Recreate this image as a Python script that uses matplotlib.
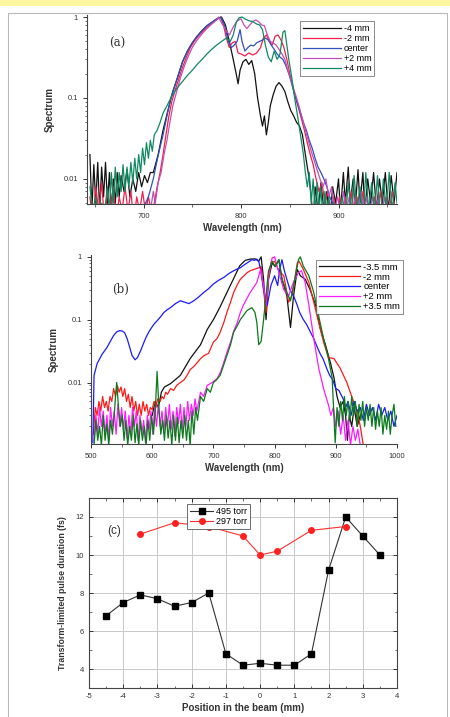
import matplotlib
matplotlib.use("Agg")
import matplotlib.pyplot as plt
from matplotlib.patches import Rectangle
from matplotlib.ticker import MultipleLocator, LogLocator, NullFormatter, FixedLocator

plt.rcParams['font.family'] = ['Liberation Sans', 'DejaVu Sans']
plt.rcParams['axes.unicode_minus'] = False

# ---------------- panel (a): spectra, 495 torr ----------------
a_labels = ['-4 mm', '-2 mm', 'center', '+2 mm', '+4 mm']
a_colors = ['#111111', '#f0204a', '#3050c0', '#c050b8', '#108a60']

a_m4_wl = [645, 647, 649, 651, 653, 655, 657, 659, 661, 663, 665, 667, 669, 671, 673, 675, 677, 680, 683, 686,
           689, 692, 695, 698, 701, 704, 707, 710, 715, 720, 725, 730, 735, 740, 745, 750, 755, 760, 765, 770,
           775, 780, 784, 788, 792, 795, 797, 799, 802, 805, 808, 811, 814, 817, 820, 822, 824, 826, 828, 830,
           833, 836, 839, 842, 845, 848, 851, 854, 857, 860, 863, 866, 868, 870, 872, 874, 876, 879, 882, 885,
           888, 891, 894, 897, 900, 902, 905, 907, 910, 912, 915, 917, 920, 922, 925, 927, 930, 933, 936, 939,
           942, 945, 948, 951, 954, 957, 960]
a_m4_val = [0.02, 0.004, 0.015, 0.005, 0.016, 0.004, 0.014, 0.006, 0.016, 0.005, 0.012, 0.004, 0.01, 0.005, 0.012,
            0.006, 0.011, 0.007, 0.013, 0.006, 0.01, 0.007, 0.012, 0.008, 0.011, 0.009, 0.012, 0.012, 0.02, 0.04,
            0.07, 0.12, 0.18, 0.28, 0.38, 0.48, 0.58, 0.68, 0.78, 0.86, 0.95, 1.0, 0.8, 0.5, 0.3, 0.2,
            0.15, 0.22, 0.28, 0.3, 0.26, 0.29, 0.2, 0.1, 0.06, 0.045, 0.06, 0.035, 0.05, 0.08,
            0.11, 0.14, 0.155, 0.14, 0.12, 0.09, 0.07, 0.06, 0.05, 0.045, 0.035, 0.02, 0.014, 0.01, 0.006,
            0.003, 0.008, 0.004, 0.009, 0.004, 0.007, 0.003, 0.008, 0.005, 0.01, 0.004, 0.012, 0.005, 0.014, 0.005,
            0.01, 0.004, 0.013, 0.005, 0.012, 0.004, 0.01, 0.005, 0.012, 0.004, 0.01, 0.005, 0.012, 0.004,
            0.011, 0.005, 0.012]

a_m2_wl = [645, 648, 651, 654, 657, 660, 663, 666, 669, 672, 675, 678, 681, 684, 687, 690, 693, 696, 699, 702,
           705, 708, 711, 714, 717, 720, 723, 726, 729, 732, 736, 740, 744, 748, 752, 756, 760, 764, 768, 772,
           776, 779, 782, 785, 788, 791, 794, 797, 800, 804, 808, 812, 816, 820, 823, 826, 829, 832, 835, 838,
           841, 844, 847, 850, 853, 856, 859, 862, 865, 868, 871, 874, 877, 880, 883, 886, 889, 892, 895, 898,
           901, 904, 907, 910, 913, 916, 919, 922, 925, 928, 931, 934, 937, 940, 943, 946, 949, 952, 955, 958]
a_m2_val = [0.006, 0.003, 0.008, 0.004, 0.009, 0.003, 0.007, 0.004, 0.008, 0.003, 0.006, 0.004, 0.008, 0.004, 0.007,
            0.003, 0.006, 0.004, 0.007, 0.004, 0.006, 0.004, 0.005, 0.008, 0.012, 0.02, 0.035, 0.06, 0.09, 0.12,
            0.17, 0.24, 0.32, 0.42, 0.5, 0.58, 0.65, 0.72, 0.8, 0.88, 0.95, 1.0, 0.8, 0.55, 0.42, 0.48,
            0.5, 0.36, 0.35, 0.33, 0.36, 0.34, 0.36, 0.42, 0.55, 0.6, 0.5, 0.45, 0.58, 0.6,
            0.52, 0.42, 0.3, 0.2, 0.14, 0.1, 0.075, 0.055, 0.04, 0.028, 0.02, 0.015, 0.01, 0.007, 0.009,
            0.005, 0.007, 0.004, 0.006, 0.003, 0.006, 0.004, 0.006, 0.003, 0.007, 0.004, 0.006, 0.003, 0.007, 0.004,
            0.005, 0.003, 0.006, 0.004, 0.007, 0.003, 0.006, 0.004, 0.007, 0.004]

a_c_wl = [698, 702, 705, 710, 713, 716, 720, 724, 728, 732, 736, 740, 745, 750, 755, 760, 765, 770, 775, 779,
          783, 787, 790, 793, 796, 799, 801, 804, 807, 810, 813, 816, 819, 822, 825, 828, 831, 834, 837, 840,
          843, 846, 849, 852, 855, 858, 861, 864, 867, 870, 873, 876, 879, 882, 885, 888, 891, 894, 897, 900]
a_c_val = [0.003, 0.005, 0.006, 0.01, 0.015, 0.022, 0.035, 0.06, 0.1, 0.14, 0.2, 0.28, 0.38, 0.48, 0.58,
           0.68, 0.78, 0.86, 0.93, 1.0, 0.8, 0.5, 0.42, 0.45, 0.5, 0.7, 0.5, 0.38, 0.42, 0.45,
           0.44, 0.48, 0.5, 0.52, 0.55, 0.52, 0.45, 0.4, 0.35, 0.32, 0.3, 0.25, 0.2, 0.15, 0.11,
           0.085, 0.065, 0.05, 0.04, 0.03, 0.024, 0.018, 0.014, 0.012, 0.01, 0.008, 0.006, 0.005, 0.004, 0.003]

a_p2_wl = [700, 704, 707, 710, 712, 715, 718, 721, 724, 727, 730, 734, 738, 742, 746, 750, 754, 758, 762, 766,
           770, 774, 777, 780, 784, 788, 792, 796, 800, 803, 806, 809, 812, 815, 818, 821, 824, 827, 830, 833,
           836, 839, 842, 845, 848, 851, 854, 857, 860, 863, 866, 869, 872, 875, 878, 881, 884, 887, 890, 893,
           896, 899, 902, 905, 908, 911, 914, 917, 920, 923, 926, 929, 932, 935, 938, 941, 944, 947, 950, 953, 956]
a_p2_val = [0.003, 0.005, 0.004, 0.007, 0.005, 0.009, 0.012, 0.02, 0.03, 0.05, 0.08, 0.12, 0.18, 0.25, 0.33,
            0.42, 0.5, 0.58, 0.66, 0.74, 0.82, 0.9, 1.0, 0.85, 0.7, 0.6, 0.75, 0.9, 0.95, 0.8,
            0.72, 0.8, 0.88, 0.92, 0.88, 0.8, 0.78, 0.6, 0.5, 0.48, 0.45, 0.4, 0.35, 0.3, 0.22,
            0.17, 0.13, 0.1, 0.075, 0.055, 0.04, 0.03, 0.022, 0.017, 0.013, 0.01, 0.008, 0.01, 0.006, 0.008,
            0.004, 0.006, 0.004, 0.007, 0.004, 0.006, 0.003, 0.006, 0.004, 0.007, 0.004, 0.006, 0.003, 0.006, 0.004,
            0.006, 0.003, 0.006, 0.004, 0.005, 0.003]

a_p4_wl = [645, 648, 651, 654, 657, 660, 663, 665, 667, 669, 671, 673, 675, 677, 679, 681, 683, 685, 687, 689,
           691, 693, 695, 697, 699, 701, 703, 705, 707, 709, 711, 714, 717, 720, 724, 728, 732, 736, 740, 745,
           750, 755, 760, 765, 770, 775, 780, 785, 789, 792, 795, 798, 801, 804, 808, 812, 816, 819, 822, 825,
           828, 831, 834, 837, 840, 843, 845, 847, 849, 852, 855, 858, 861, 864, 866, 868, 870, 872, 874, 876,
           878, 880, 882, 884, 886, 888, 890, 892, 895, 898, 901,
           904, 907, 910, 913, 916, 919, 922, 925, 928, 931, 934, 937, 940, 943, 946, 949, 952, 955, 958, 960]
a_p4_val = [0.008, 0.004, 0.006, 0.003, 0.005, 0.004, 0.008, 0.004, 0.012, 0.005, 0.014, 0.006, 0.012, 0.007, 0.015,
            0.007, 0.014, 0.008, 0.016, 0.009, 0.018, 0.01, 0.02, 0.012, 0.024, 0.015, 0.028, 0.018, 0.03, 0.022,
            0.035, 0.04, 0.05, 0.065, 0.08, 0.1, 0.12, 0.14, 0.16, 0.19, 0.22, 0.26, 0.3, 0.35, 0.4,
            0.45, 0.5, 0.55, 0.5, 0.6, 0.85, 0.98, 1.0, 0.95, 0.9, 0.88, 0.82, 0.8, 0.7, 0.45,
            0.32, 0.28, 0.38, 0.3, 0.35, 0.65, 0.68, 0.45, 0.3, 0.18, 0.1, 0.06, 0.035, 0.02, 0.012,
            0.008, 0.012, 0.005, 0.01, 0.004, 0.009, 0.004, 0.008, 0.003, 0.007, 0.004, 0.006, 0.003, 0.005, 0.003,
            0.004,
            0.006, 0.003, 0.009, 0.004, 0.011, 0.004, 0.008, 0.003, 0.012, 0.004, 0.009, 0.004, 0.011, 0.003, 0.01,
            0.004, 0.012, 0.004, 0.009, 0.005]

# ---------------- panel (b): spectra, 297 torr ----------------
b_labels = ['-3.5 mm', '-2 mm', 'center', '+2 mm', '+3.5 mm']
b_colors = ['#111111', '#ff1a1a', '#1a1aff', '#ff1aff', '#0a7a1a']

b_m35_wl = [600, 605, 610, 615, 620, 630, 646, 662, 679, 690, 700, 711, 722, 733, 743, 752, 760, 768, 774, 778,
            782, 786,
            790, 796, 801, 807, 812, 820, 826, 831, 837, 842,
            850, 858, 867, 875, 883, 891, 897, 902, 907, 912,
            916, 919, 922, 926, 930, 935, 940]
b_m35_val = [0.003, 0.005, 0.004, 0.007, 0.0085, 0.0096, 0.013, 0.024, 0.04, 0.07, 0.1, 0.16, 0.27, 0.45, 0.72,
             0.88, 0.92, 0.93, 0.85, 1.0, 0.44, 0.1,
             0.44, 0.8, 0.7, 0.9, 0.44, 0.24, 0.075, 0.24, 0.63, 0.5,
             0.44, 0.3, 0.17, 0.07, 0.04, 0.021, 0.012, 0.006, 0.004, 0.005,
             0.003, 0.0012, 0.003, 0.002, 0.004, 0.002, 0.003]

b_m2_wl = [504, 507, 510, 513, 516, 519, 522, 525, 528, 531, 534, 537, 540, 543, 546, 549, 552, 555, 558, 561,
           564, 567, 570, 573, 576, 579, 582, 585, 588, 591, 594, 597, 600, 603, 606, 609, 613, 616, 619, 622,
           625, 630, 635, 640, 646, 652, 657, 662, 668, 674, 679, 685, 692, 700, 706, 711, 717, 722, 728, 733,
           739, 744, 750, 755, 760, 766, 770, 774, 778, 782, 786, 790, 794, 800, 807, 815, 823, 829, 837, 840,
           847, 856, 864, 872, 880, 888, 897, 907, 918, 926, 935, 940, 945]
b_m2_val = [0.0015, 0.004, 0.003, 0.005, 0.0035, 0.006, 0.004, 0.005, 0.0035, 0.006, 0.005, 0.008, 0.006, 0.009, 0.007,
            0.0085, 0.006, 0.008, 0.005, 0.0065,
            0.004, 0.006, 0.0035, 0.005, 0.003, 0.0045, 0.003, 0.005, 0.0035, 0.0045, 0.003, 0.004, 0.0037, 0.005, 0.004,
            0.0055, 0.005, 0.006, 0.0055, 0.007,
            0.0065, 0.008, 0.0075, 0.009, 0.01, 0.011, 0.013, 0.016, 0.018, 0.021, 0.024, 0.027, 0.029, 0.044, 0.05,
            0.063, 0.09, 0.13, 0.19, 0.27,
            0.36, 0.44, 0.5, 0.56, 0.6, 0.63, 0.65, 0.67, 0.7, 0.3, 0.13, 0.44, 0.8, 0.85, 0.6,
            0.5, 0.19, 0.25, 0.8, 0.85,
            0.63, 0.39, 0.19, 0.09, 0.044, 0.025, 0.024, 0.017, 0.01, 0.006, 0.0035, 0.002, 0.001]

b_c_wl = [503, 505, 510, 518, 526, 532, 537, 542, 547, 551, 555, 559, 563, 567, 572, 576, 581, 585, 589, 593,
          597, 603, 608, 614, 619, 625, 630, 638, 646, 653, 660, 668, 676, 684, 692, 700, 708, 717, 725, 733,
          739, 744, 750, 755, 760, 763, 767, 771, 774, 777, 782, 788, 794, 800, 805, 808, 812, 816, 820, 825,
          831, 836, 841, 847, 852, 858, 864, 870, 875, 879, 886, 890, 895, 900, 905, 912, 916, 920, 925, 930,
          935, 940, 945, 950, 955, 960, 965, 970, 975, 980, 985, 990, 995, 1000]
b_c_val = [0.0011, 0.013, 0.02, 0.028, 0.036, 0.046, 0.056, 0.064, 0.067, 0.066, 0.062, 0.05, 0.037, 0.027, 0.023,
           0.025, 0.032, 0.04, 0.05, 0.06, 0.07, 0.085, 0.096, 0.112, 0.13, 0.145, 0.156, 0.18, 0.2, 0.19,
           0.18, 0.2, 0.23, 0.27, 0.31, 0.37, 0.42, 0.47, 0.54, 0.6, 0.64, 0.67, 0.74, 0.8, 0.86,
           0.9, 0.88, 0.92, 0.85, 0.63, 0.3, 0.17, 0.35, 0.5, 0.35, 0.6, 0.9, 0.6, 0.44, 0.3,
           0.24, 0.18, 0.13, 0.1, 0.085, 0.065, 0.05, 0.036, 0.028, 0.024, 0.016, 0.013, 0.011, 0.008, 0.0075,
           0.0055, 0.004, 0.005, 0.003, 0.005, 0.0035, 0.004, 0.0025, 0.0045, 0.003, 0.004, 0.0025, 0.0045, 0.003,
           0.004, 0.0025, 0.0035, 0.002, 0.003]

b_p2_wl = [505, 508, 511, 514, 517, 520, 523, 526, 529, 532, 535, 538, 541, 544, 547, 550, 553, 556, 559, 562,
           565, 568, 571, 574, 577, 580, 583, 586, 589, 592, 595, 598, 601, 604, 607, 610, 613, 616, 619, 622,
           625, 628, 631, 634, 637, 640, 643, 646, 649, 652, 655, 658, 661, 664, 667, 670, 673, 676, 679, 684,
           690, 698, 706, 712, 717, 722, 728, 733, 739, 744, 749, 755, 760, 766, 771, 777, 782, 786, 790, 796,
           800, 807, 815, 823, 831, 839, 844, 850, 856, 864, 872, 880, 888, 892, 896, 900, 904, 908, 912, 916,
           920, 924, 928, 932, 936, 940]
b_p2_val = [0.0012, 0.003, 0.0015, 0.004, 0.002, 0.0035, 0.0015, 0.003, 0.0012, 0.004, 0.002, 0.0035, 0.0015, 0.0045, 0.002,
            0.004, 0.0018, 0.0035, 0.0013, 0.003, 0.0015, 0.004, 0.002, 0.0035, 0.0012, 0.003, 0.0015, 0.0025, 0.0011, 0.003,
            0.0018, 0.0035, 0.0015, 0.004, 0.002, 0.0045, 0.002, 0.0035, 0.0016, 0.004, 0.002, 0.0045, 0.0018, 0.0035, 0.0014,
            0.004, 0.0022, 0.0045, 0.0018, 0.004, 0.002, 0.005, 0.0025, 0.0045, 0.003, 0.0055, 0.0035, 0.005, 0.007,
            0.006, 0.009, 0.01, 0.0115, 0.015, 0.021, 0.03, 0.044, 0.065, 0.09, 0.13, 0.17, 0.22, 0.27, 0.33,
            0.39, 0.63, 0.34, 0.17, 0.5, 0.96, 1.0, 0.56, 0.3, 0.24, 0.4, 0.56, 0.6, 0.39, 0.17, 0.05,
            0.017, 0.008, 0.0044, 0.003, 0.004, 0.002, 0.0035, 0.0015, 0.003, 0.0012, 0.0025, 0.001, 0.002, 0.0012,
            0.0018, 0.001]

b_p35_wl = [505, 508, 511, 514, 517, 520, 523, 526, 529, 532, 535, 538, 540, 542, 545, 548, 551, 554, 557, 560,
            563, 566, 569, 572, 575, 578, 581, 584, 587, 590, 593, 596, 599, 602, 605, 608, 611, 614, 617, 620,
            623, 626, 629, 632, 635, 638, 641, 644, 647, 650, 653, 656, 659, 662, 665, 668, 671, 674, 679, 684,
            690, 695, 700, 705, 711, 716, 722, 728, 733, 739, 744, 750, 755, 760, 763, 768, 771, 774, 778, 782,
            786, 790, 796, 801, 807, 812, 820, 826, 831, 839, 842, 847, 856, 864, 872, 880, 888, 894, 897, 899,
            902, 905, 908, 911, 914, 917, 920, 923, 926, 929, 932, 935, 938, 941, 944, 947, 950, 953, 956, 959,
            962, 965, 968, 971, 974, 977, 980, 983, 986, 989, 992, 995, 998]
b_p35_val = [0.001, 0.0025, 0.0012, 0.002, 0.001, 0.003, 0.0012, 0.0022, 0.001, 0.0025, 0.0015, 0.003, 0.006, 0.01, 0.004,
             0.002, 0.003, 0.0012, 0.0025, 0.001, 0.002, 0.0012, 0.003, 0.0011, 0.0022, 0.001, 0.0025, 0.0012, 0.002, 0.001,
             0.0025, 0.0012, 0.003, 0.0015, 0.0035, 0.015, 0.004, 0.0015, 0.0025, 0.0012, 0.003, 0.0013, 0.0025, 0.001, 0.003,
             0.0012, 0.0028, 0.0011, 0.0025, 0.0013, 0.003, 0.0012, 0.0025, 0.001, 0.0035, 0.0015, 0.004, 0.0025, 0.006,
             0.005, 0.008, 0.007, 0.01, 0.011, 0.013, 0.018, 0.027, 0.04, 0.063, 0.08, 0.1, 0.12, 0.14, 0.15, 0.155,
             0.13, 0.09, 0.04, 0.045, 0.1, 0.24, 0.6, 0.85, 0.7, 0.9, 0.45, 0.27, 0.2, 0.35, 0.9,
             1.0, 0.71, 0.5, 0.27, 0.115, 0.05, 0.024, 0.012, 0.003, 0.0011, 0.004, 0.002, 0.005, 0.0025, 0.006,
             0.003, 0.005, 0.0025, 0.006, 0.003, 0.005, 0.002, 0.0045, 0.0025, 0.005, 0.002, 0.004, 0.0025, 0.0045,
             0.002, 0.004, 0.0018, 0.0035, 0.002, 0.004, 0.0015, 0.003, 0.0018, 0.0035, 0.0015, 0.003, 0.0045, 0.002]

# ---------------- panel (c): transform-limited duration ----------------
pos_495 = [-4.5, -4, -3.5, -3, -2.5, -2, -1.5, -1, -0.5, 0, 0.5, 1, 1.5, 2, 2.5, 3, 3.5]
dur_495 = [6.8, 7.5, 7.9, 7.7, 7.3, 7.5, 8.0, 4.8, 4.2, 4.3, 4.2, 4.2, 4.8, 9.2, 12.0, 11.0, 10.0]
pos_297 = [-3.5, -2.5, -1.5, -0.5, 0, 0.5, 1.5, 2.5]
dur_297 = [11.1, 11.7, 11.5, 11.0, 10.0, 10.2, 11.3, 11.5]

W, H = 450, 717
fig = plt.figure(figsize=(W / 100, H / 100), dpi=100)
fig.patch.set_facecolor('white')
# yellow strip and page frame of the screenshot
fig.patches.append(Rectangle((0, 1 - 6 / H), 1, 6 / H, transform=fig.transFigure,
                             facecolor='#fff7a0', edgecolor='none'))
fig.patches.append(Rectangle((8 / W, -0.01), 439 / W, 1 - 13 / H + 0.01, transform=fig.transFigure,
                             facecolor='none', edgecolor='#b8b8b8', linewidth=0.8))


def box(l, t, r, b):
    return [l / W, 1 - b / H, (r - l) / W, (b - t) / H]


lab_font = dict(fontsize=7, fontweight='bold', color='#333333')
tick_size = 5.5


def spectrum_axes(ax, xlim, ylim, xticks, minor_x, tag, tag_xy):
    ax.set_yscale('log')
    ax.set_xlim(*xlim)
    ax.set_ylim(*ylim)
    ax.xaxis.set_major_locator(FixedLocator(xticks))
    ax.xaxis.set_minor_locator(MultipleLocator(minor_x))
    ax.yaxis.set_major_locator(FixedLocator([0.01, 0.1, 1]))
    ax.yaxis.set_minor_locator(LogLocator(base=10, subs=[i / 10 for i in range(2, 10)], numticks=20))
    ax.yaxis.set_minor_formatter(NullFormatter())
    ax.set_yticklabels(['0.01', '0.1', '1'])
    ax.tick_params(axis='both', which='major', labelsize=tick_size, length=3, width=0.7, colors='#333333')
    ax.tick_params(axis='both', which='minor', length=1.8, width=0.5, colors='#333333')
    ax.spines['top'].set_visible(False)
    ax.spines['right'].set_visible(False)
    for s in ('left', 'bottom'):
        ax.spines[s].set_linewidth(0.8)
        ax.spines[s].set_color('#444444')
    ax.set_xlabel('Wavelength (nm)', labelpad=2, **lab_font)
    ax.set_ylabel('Spectrum', labelpad=6, **lab_font)
    ax.text(tag_xy[0], tag_xy[1], tag, transform=ax.transAxes, fontsize=8.5,
            family=['DejaVu Serif'], color='#333333')


# (a)
ax1 = fig.add_axes(box(87, 15, 397, 204))
for wl, v, c, lab in zip([a_m4_wl, a_m2_wl, a_c_wl, a_p2_wl, a_p4_wl],
                         [a_m4_val, a_m2_val, a_c_val, a_p2_val, a_p4_val], a_colors, a_labels):
    ax1.plot(wl, v, color=c, lw=0.9, label=lab)
spectrum_axes(ax1, (642, 960), (0.0049, 1.06), [700, 800, 900], 50, '(a)', (0.07, 0.83))
leg = ax1.legend(loc='upper right', bbox_to_anchor=(0.94, 0.99), fontsize=6.5, frameon=True,
                 fancybox=False, edgecolor='#555555', handlelength=4.2, handletextpad=0.3,
                 labelspacing=0.12, borderpad=0.3)
leg.get_frame().set_linewidth(0.6)

# (b)
ax2 = fig.add_axes(box(91, 255, 397, 444))
for wl, v, c, lab in zip([b_m35_wl, b_m2_wl, b_c_wl, b_p2_wl, b_p35_wl],
                         [b_m35_val, b_m2_val, b_c_val, b_p2_val, b_p35_val], b_colors, b_labels):
    ax2.plot(wl, v, color=c, lw=0.9, label=lab)
spectrum_axes(ax2, (500, 1000), (0.00105, 1.07), [500, 600, 700, 800, 900, 1000], 50, '(b)', (0.07, 0.8))
leg = ax2.legend(loc='upper right', bbox_to_anchor=(1.035, 1.0), fontsize=6.8, frameon=True,
                 fancybox=False, edgecolor='#555555', handlelength=4.4, handletextpad=0.3,
                 labelspacing=0.1, borderpad=0.3)
leg.get_frame().set_linewidth(0.6)

# (c)
ax3 = fig.add_axes(box(89, 498, 397, 688))
ax3.plot(pos_495, dur_495, color='#333333', lw=0.8, marker='s', ms=4, mfc='black', mec='black', label='495 torr')
ax3.plot(pos_297, dur_297, color='#ff3030', lw=0.8, marker='o', ms=4, mfc='#ff2020', mec='#ff2020', label='297 torr')
ax3.set_xlim(-5, 4)
ax3.set_ylim(3, 13)
ax3.xaxis.set_major_locator(MultipleLocator(1))
ax3.xaxis.set_minor_locator(MultipleLocator(0.5))
ax3.yaxis.set_major_locator(FixedLocator([4, 6, 8, 10, 12]))
ax3.yaxis.set_minor_locator(MultipleLocator(1))
ax3.grid(True, which='major', color='#c8c8c8', lw=0.7)
ax3.set_axisbelow(True)
ax3.tick_params(axis='both', which='both', direction='in', top=True, right=True, colors='#333333')
ax3.tick_params(axis='both', which='major', labelsize=tick_size, length=3, width=0.7)
ax3.tick_params(axis='both', which='minor', length=1.8, width=0.5)
for s in ax3.spines.values():
    s.set_linewidth(0.8)
    s.set_color('#444444')
ax3.set_xlabel('Position in the beam (mm)', labelpad=2, **lab_font)
ax3.set_ylabel('Transform-limited pulse duration (fs)', labelpad=6, fontsize=6.3,
               fontweight='bold', color='#333333')
ax3.text(0.058, 0.81, '(c)', transform=ax3.transAxes, fontsize=8.5, color='#333333')
leg = ax3.legend(loc='upper center', bbox_to_anchor=(0.42, 0.99), fontsize=6.5, frameon=True,
                 fancybox=False, edgecolor='#555555', handlelength=2.6, handletextpad=0.3,
                 labelspacing=0.1, borderpad=0.3, framealpha=1)
leg.get_frame().set_linewidth(0.6)

fig.savefig('out.png', dpi=100, facecolor='white')
